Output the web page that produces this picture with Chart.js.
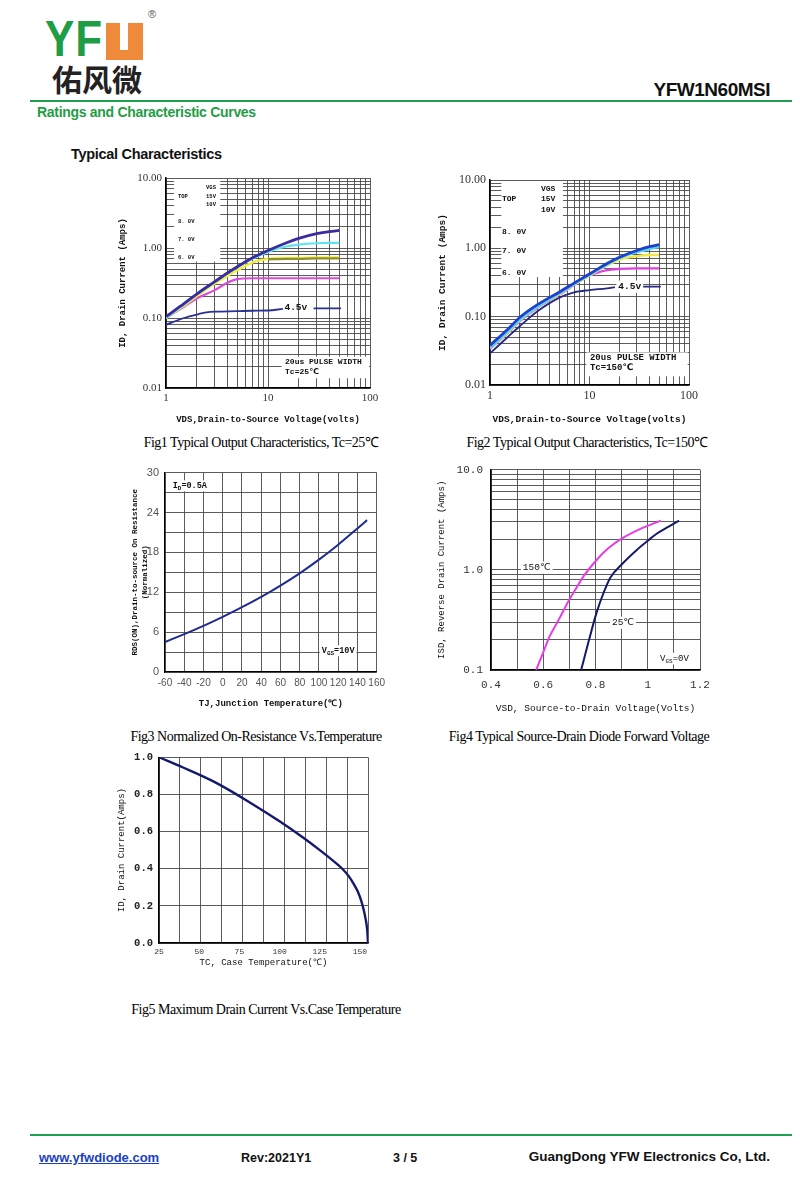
<!DOCTYPE html>
<html>
<head>
<meta charset="utf-8">
<script src="https://cdn.jsdelivr.net/npm/chart.js@4.4.0/dist/chart.umd.min.js"></script>
<style>
body{margin:0;background:#fff;width:800px;height:1200px;position:relative;overflow:hidden;font-family:"Liberation Sans",Arial,sans-serif}
.abs{position:absolute;white-space:nowrap}
canvas{position:absolute}
.cap{position:absolute;font-family:"Liberation Serif",serif;font-size:14px;letter-spacing:-0.5px;white-space:nowrap;transform:translate(-50%,-50%)}
</style>
</head>
<body>
<!-- header -->
<div class="abs" style="left:45px;top:14px;font-size:50px;font-weight:bold;color:#1f9d45;letter-spacing:1px;line-height:50px;transform:scaleX(0.88);transform-origin:left top">YF</div>
<div class="abs" style="left:106px;top:23px;width:37px;height:37px;background:#ee8a3a"></div>
<div class="abs" style="left:120px;top:23px;width:8px;height:27px;background:#fff"></div>
<div class="abs" style="left:148px;top:8px;font-size:11px;color:#555">®</div>
<div class="abs" style="left:52px;top:61px;font-family:'Noto Sans CJK SC';font-size:30px;font-weight:bold;color:#222;line-height:34px;letter-spacing:0px">佑风微</div>
<div class="abs" style="right:30px;top:79px;font-size:19px;font-weight:bold;color:#111;letter-spacing:-0.5px">YFW1N60MSI</div>
<div class="abs" style="left:30px;top:100px;width:762px;height:2px;background:#1fa050"></div>
<div class="abs" style="left:37px;top:104px;font-size:14px;font-weight:bold;color:#1f9d45;letter-spacing:-0.3px">Ratings and Characteristic Curves</div>
<div class="abs" style="left:71px;top:146px;font-size:14.5px;font-weight:bold;color:#111;letter-spacing:-0.3px">Typical Characteristics</div>

<canvas id="c1" width="280" height="265" style="left:105px;top:165px"></canvas>
<canvas id="c2" width="275" height="265" style="left:430px;top:165px"></canvas>
<canvas id="c3" width="270" height="260" style="left:120px;top:460px"></canvas>
<canvas id="c4" width="290" height="265" style="left:430px;top:455px"></canvas>
<canvas id="c5" width="280" height="230" style="left:105px;top:745px"></canvas>

<div class="cap" style="left:261px;top:441px">Fig1 Typical Output Characteristics, Tc=25℃</div>
<div class="cap" style="left:587px;top:441px">Fig2 Typical Output Characteristics, Tc=150℃</div>
<div class="cap" style="left:256px;top:737px">Fig3 Normalized On-Resistance Vs.Temperature</div>
<div class="cap" style="left:579px;top:737px">Fig4 Typical Source-Drain Diode Forward Voltage</div>
<div class="cap" style="left:266px;top:1010px">Fig5 Maximum Drain Current Vs.Case Temperature</div>

<!-- footer -->
<div class="abs" style="left:30px;top:1134px;width:762px;height:2px;background:#1fa050"></div>
<div class="abs" style="left:39px;top:1150px;font-size:13px;font-weight:bold;color:#1a3fc0;text-decoration:underline">www.yfwdiode.com</div>
<div class="abs" style="left:241px;top:1151px;font-size:12.5px;font-weight:bold;color:#111">Rev:2021Y1</div>
<div class="abs" style="left:393px;top:1151px;font-size:12.5px;font-weight:bold;color:#111">3 / 5</div>
<div class="abs" style="right:30px;top:1149px;font-size:13.5px;font-weight:bold;color:#111">GuangDong YFW Electronics Co, Ltd.</div>

<script>
// ---- Fig1 data (Tc=25C) ----
const fig1Vds = [1, 1.5, 2, 3, 4, 5, 7, 10, 15, 20, 30, 40, 50];
const fig1Vgs15 = [0.105, 0.16, 0.22, 0.33, 0.44, 0.54, 0.72, 0.92, 1.18, 1.37, 1.6, 1.72, 1.78];
const fig1Vgs10 = [0.1, 0.155, 0.215, 0.325, 0.43, 0.53, 0.7, 0.88, 1.05, 1.12, 1.17, 1.18, 1.18];
const fig1Vgs8 = [0.1, 0.15, 0.205, 0.31, 0.4, 0.48, 0.62, 0.7, 0.72, 0.72, 0.73, 0.73, 0.73];
const fig1Vgs7 = [null, null, null, null, null, null, null, 0.69, 0.7, 0.7, 0.71, 0.71, 0.71];
const fig1Vgs6 = [0.1, 0.145, 0.19, 0.25, 0.32, 0.36, 0.37, 0.37, 0.37, 0.37, 0.37, 0.37, 0.37];
const fig1Vds45 = [1, 1.5, 2, 2.5, 3, 5, 7, 10, 14, 20, 28, 52];
const fig1Vgs45 = [0.08, 0.1, 0.112, 0.12, 0.123, 0.125, 0.127, 0.128, 0.135, null, 0.137, 0.137];

// ---- Fig2 data (Tc=150C) ----
const fig2Vds = [1, 1.5, 2, 3, 5, 7, 10, 15, 20, 30, 40, 50];
const fig2Vgs15 = [0.038, 0.065, 0.098, 0.15, 0.23, 0.31, 0.42, 0.6, 0.74, 0.93, 1.06, 1.13];
const fig2Vgs10 = [0.035, 0.06, 0.09, 0.14, 0.22, 0.3, 0.41, 0.58, 0.72, 0.88, 0.98, 1.05];
const fig2Vgs8 = [0.035, 0.058, 0.088, 0.138, 0.215, 0.295, 0.4, 0.56, 0.68, 0.77, 0.8, 0.8];
const fig2Vgs6 = [0.034, 0.057, 0.086, 0.135, 0.21, 0.29, 0.4, 0.48, 0.5, 0.51, 0.51, 0.51];
const fig2Vds45 = [1, 1.5, 2, 3, 5, 7, 10, 15, 18, 25, 32, 52];
const fig2Vgs45 = [0.029, 0.05, 0.073, 0.12, 0.19, 0.227, 0.245, 0.26, 0.27, null, 0.275, 0.275];

const logXLabels = [1, 10, 100];
const logYLabels = [0.01, 0.1, 1, 10];

// ---- Fig3 data ----
const fig3Tj = [-60, -40, -20, 0, 20, 40, 60, 80, 100, 120, 140, 150];
const fig3Rds = [4.5, 5.7, 6.95, 8.3, 9.75, 11.3, 13.0, 14.85, 16.9, 19.15, 21.6, 22.85];
const fig3YLabels = [0, 6, 12, 18, 24, 30];

// ---- Fig4 data ----
const fig4Vsd150 = [0.573, 0.6, 0.624, 0.66, 0.699, 0.73, 0.754, 0.805, 0.85, 0.9, 0.97, 1.05];
const fig4Isd150 = [0.1, 0.15, 0.215, 0.32, 0.5, 0.68, 0.86, 1.26, 1.65, 2.05, 2.55, 3.1];
const fig4Vsd25 = [0.745, 0.773, 0.805, 0.83, 0.856, 0.9, 0.958, 1.0, 1.034, 1.08, 1.12];
const fig4Isd25 = [0.1, 0.19, 0.38, 0.58, 0.83, 1.13, 1.58, 1.95, 2.29, 2.7, 3.1];
const fig4XLabels = [0.4, 0.6, 0.8, 1, 1.2];
const fig4YLabels = [0.1, 1, 10];

// ---- Fig5 data ----
const fig5Tc = [25, 40, 60, 80, 100, 115, 125, 133, 139, 143, 146, 148.5, 150.5, 152, 153.5, 154.5, 155];
const fig5Id = [1.0, 0.945, 0.865, 0.765, 0.655, 0.565, 0.5, 0.445, 0.4, 0.36, 0.32, 0.28, 0.235, 0.19, 0.13, 0.07, 0];
const fig5XLabels = [25, 50, 75, 100, 125, 150];
const fig5XGrid = [25, 38, 51, 64, 77, 90, 103, 116, 129, 142, 155];

Chart.defaults.font.family = 'Liberation Serif';
const GRID = '#4a4a4a';
const MONO = 'Liberation Mono';

function logGrid(e0, e1) {
  const v = [];
  for (let e = e0; e < e1; e++) for (let m = 1; m < 10; m++) v.push(+(m * Math.pow(10, e)).toPrecision(3));
  v.push(Math.pow(10, e1));
  return v;
}
function stepGrid(a, b, s) {
  const v = [];
  for (let t = a; t <= b + 1e-9; t += s) v.push(+t.toFixed(4));
  return v;
}
const has = (arr, v) => arr.some(l => Math.abs(l - v) < 1e-6 * Math.max(1, Math.abs(l)));

function series(xs, ys, color, w) {
  return {
    data: xs.map((x, i) => ({x: x, y: ys[i]})),
    borderColor: color, borderWidth: w, pointRadius: 0,
    cubicInterpolationMode: 'monotone', spanGaps: false, fill: false
  };
}

// white boxes and text placed in data coordinates
const notesPlugin = {
  id: 'notes',
  beforeDatasetsDraw(chart, args, o) {
    const {ctx, chartArea: a} = chart;
    const x = chart.scales.x, y = chart.scales.y;
    (o.boxes || []).forEach(b => {
      const l = Math.max(x.getPixelForValue(b[0]), a.left + 1);
      const r = Math.min(x.getPixelForValue(b[1]), a.right - 1);
      const t = Math.max(y.getPixelForValue(b[3]), a.top + 1);
      const bt = Math.min(y.getPixelForValue(b[2]), a.bottom - 1);
      ctx.save(); ctx.fillStyle = '#fff'; ctx.fillRect(l, t, r - l, bt - t); ctx.restore();
    });
  },
  afterDatasetsDraw(chart, args, o) {
    const {ctx} = chart;
    const x = chart.scales.x, y = chart.scales.y;
    (o.texts || []).forEach(t => {
      const parts = Array.isArray(t.text) ? t.text : [[t.text, false]];
      const size = t.size || 9, weight = t.weight || 'bold';
      const fam = t.family || MONO;
      const fMain = weight + ' ' + size + 'px "' + fam + '", "DejaVu Sans"';
      const fSub = weight + ' ' + Math.round(size * 0.7) + 'px "' + fam + '", "DejaVu Sans"';
      ctx.save();
      let w = 0;
      parts.forEach(p => { ctx.font = p[1] ? fSub : fMain; w += ctx.measureText(p[0]).width; });
      let px = x.getPixelForValue(t.x);
      const py = y.getPixelForValue(t.y);
      if (t.bg) { ctx.fillStyle = '#fff'; ctx.fillRect(px - 2, py - size * 0.65, w + 4, size * 1.3); }
      ctx.fillStyle = t.color || '#111';
      ctx.textBaseline = 'middle';
      ctx.textAlign = 'left';
      parts.forEach(p => {
        ctx.font = p[1] ? fSub : fMain;
        ctx.fillText(p[0], px, p[1] ? py + size * 0.3 : py);
        px += ctx.measureText(p[0]).width;
      });
      ctx.restore();
    });
  }
};

function base(box, plot, scales, notes) {
  const yW = plot[0] - box[0], xH = box[1] + box[3] - plot[3];
  scales.x.afterFit = s => { s.height = xH; };
  scales.y.afterFit = s => { s.width = yW; };
  return {
    animation: false, responsive: false, events: [],
    layout: {padding: {left: 0, bottom: 0, top: plot[1] - box[1], right: box[0] + box[2] - plot[2]}},
    plugins: {legend: {display: false}, tooltip: {enabled: false}, notes: notes},
    scales: scales
  };
}

function logAxis(min, max, e0, e1, labels, fmt, font, title, titleFont, pad) {
  const grid = logGrid(e0, e1);
  return {
    type: 'logarithmic', min: min, max: max,
    afterBuildTicks: s => { s.ticks = grid.map(v => ({value: v})); },
    ticks: {autoSkip: false, maxRotation: 0, padding: 4, color: '#333', font: font,
      callback: v => has(labels, v) ? fmt(v) : ''},
    grid: {color: GRID, lineWidth: 0.9, drawTicks: false},
    border: {color: '#000', width: 1.5},
    title: {display: true, text: title, font: titleFont, color: '#111', padding: pad}
  };
}

// ---------- Fig1 ----------
new Chart(document.getElementById('c1'), {
  type: 'line',
  data: {datasets: [
    series(fig1Vds, fig1Vgs15, '#3a2ca0', 2.8),
    series(fig1Vds, fig1Vgs10, '#5fe3f2', 2.2),
    series(fig1Vds, fig1Vgs7, '#8f8f2c', 2.4),
    series(fig1Vds, fig1Vgs8, '#f3ee3a', 2.4),
    series(fig1Vds, fig1Vgs6, '#e04ad8', 2.2),
    series(fig1Vds45, fig1Vgs45, '#2a3192', 1.8)
  ]},
  options: base([105, 165, 280, 265], [166, 178, 370, 388], {
    x: logAxis(1, 100, 0, 2, logXLabels, v => String(v), {size: 11},
      'VDS,Drain-to-Source Voltage(volts)', {family: MONO, size: 9, weight: 'bold'}, {top: 2, bottom: 5}),
    y: logAxis(0.01, 10, -2, 1, logYLabels, v => v.toFixed(2), {size: 11},
      'ID, Drain Current (Amps)', {family: MONO, size: 9, weight: 'bold'}, {top: 12, bottom: 2})
  }, {
    boxes: [[1.2, 3.4, 0.64, 10], [13.6, 98, 0.0138, 0.028]],
    texts: [
      {x: 2.47, y: 7.2, text: 'VGS', size: 5.5},
      {x: 1.31, y: 5.4, text: 'TOP', size: 5.5},
      {x: 2.47, y: 5.4, text: '15V', size: 5.5},
      {x: 2.47, y: 4.1, text: '10V', size: 5.5},
      {x: 1.31, y: 2.35, text: '8. 0V', size: 5.5},
      {x: 1.31, y: 1.3, text: '7. 0V', size: 5.5},
      {x: 1.31, y: 0.74, text: '6. 0V', size: 5.5},
      {x: 14.5, y: 0.139, text: '4.5v', size: 9.5},
      {x: 14.7, y: 0.0235, text: '20us PULSE WIDTH', size: 8},
      {x: 14.7, y: 0.0168, text: 'Tc=25℃', size: 8}
    ]
  }),
  plugins: [notesPlugin]
});

// ---------- Fig2 ----------
new Chart(document.getElementById('c2'), {
  type: 'line',
  data: {datasets: [
    series(fig2Vds, fig2Vgs15, '#1e3fd0', 2.8),
    series(fig2Vds, fig2Vgs10, '#52d6ef', 2.6),
    series(fig2Vds, fig2Vgs8, '#f0e840', 2.4),
    series(fig2Vds, fig2Vgs6, '#e040e0', 2.2),
    series(fig2Vds45, fig2Vgs45, '#232a80', 1.8)
  ]},
  options: base([430, 165, 275, 265], [490, 180, 689, 385], {
    x: logAxis(1, 100, 0, 2, logXLabels, v => String(v), {size: 12},
      'VDS,Drain-to-Source Voltage(volts)', {family: MONO, size: 9.5, weight: 'bold'}, {top: 2, bottom: 5}),
    y: logAxis(0.01, 10, -2, 1, logYLabels, v => v.toFixed(2), {size: 12},
      'ID, Drain Current (Amps)', {family: MONO, size: 9.5, weight: 'bold'}, {top: 7, bottom: 2})
  }, {
    boxes: [[1.3, 5.4, 0.38, 10], [9.3, 97, 0.0134, 0.03]],
    texts: [
      {x: 3.25, y: 7.5, text: 'VGS', size: 8},
      {x: 1.32, y: 5.3, text: 'TOP', size: 8},
      {x: 3.25, y: 5.3, text: '15V', size: 8},
      {x: 3.25, y: 3.7, text: '10V', size: 8},
      {x: 1.32, y: 1.76, text: '8. 0V', size: 8},
      {x: 1.32, y: 0.9, text: '7. 0V', size: 8},
      {x: 1.32, y: 0.44, text: '6. 0V', size: 8},
      {x: 19.5, y: 0.275, text: '4.5v', size: 9.5, bg: true},
      {x: 10.1, y: 0.0248, text: '20us PULSE WIDTH', size: 9},
      {x: 10.1, y: 0.0178, text: 'Tc=150℃', size: 9}
    ]
  }),
  plugins: [notesPlugin]
});

// ---------- Fig3 ----------
const fig3XGrid = stepGrid(-60, 160, 20);
const fig3YGrid = stepGrid(0, 30, 3);
new Chart(document.getElementById('c3'), {
  type: 'line',
  data: {datasets: [series(fig3Tj, fig3Rds, '#1d2c8e', 2)]},
  options: base([120, 460, 270, 260], [165, 471, 377, 672], {
    x: {type: 'linear', min: -60, max: 160,
      afterBuildTicks: s => { s.ticks = fig3XGrid.map(v => ({value: v})); },
      ticks: {autoSkip: false, maxRotation: 0, padding: 5, color: '#555', font: {family: 'Liberation Sans', size: 10}},
      grid: {color: GRID, lineWidth: 0.9, drawTicks: false},
      border: {color: '#000', width: 1.2},
      title: {display: true, text: 'TJ,Junction Temperature(℃)', font: {family: MONO, size: 9, weight: 'bold'}, color: '#111', padding: {top: 2, bottom: 11}}},
    y: {type: 'linear', min: 0, max: 30,
      afterBuildTicks: s => { s.ticks = fig3YGrid.map(v => ({value: v})); },
      ticks: {autoSkip: false, padding: 6, color: '#555', font: {family: 'Liberation Sans', size: 11},
        callback: v => has(fig3YLabels, v) ? String(v) : ''},
      grid: {color: GRID, lineWidth: 0.9, drawTicks: false},
      border: {color: '#000', width: 1.2},
      title: {display: true, text: ['RDS(ON),Drain-to-source On Resistance', '(Normalized)'],
        font: {family: MONO, size: 7.5, weight: 'bold', lineHeight: 1.35}, color: '#111', padding: {top: 10, bottom: 0}}}
  }, {
    boxes: [],
    texts: [
      {x: -52, y: 28, text: [['I', false], ['D', true], ['=0.5A', false]], size: 8.5, bg: true},
      {x: 103, y: 3.2, text: [['V', false], ['GS', true], ['=10V', false]], size: 8.5, bg: true}
    ]
  }),
  plugins: [notesPlugin]
});

// ---------- Fig4 ----------
const fig4XGrid = stepGrid(0.4, 1.2, 0.1);
const fig4YGrid = logGrid(-1, 1);
new Chart(document.getElementById('c4'), {
  type: 'line',
  data: {datasets: [
    series(fig4Vsd150, fig4Isd150, '#e83ce8', 2),
    series(fig4Vsd25, fig4Isd25, '#15196e', 2)
  ]},
  options: base([430, 455, 290, 265], [491, 468, 700, 670], {
    x: {type: 'linear', min: 0.4, max: 1.2,
      afterBuildTicks: s => { s.ticks = fig4XGrid.map(v => ({value: v})); },
      ticks: {autoSkip: false, maxRotation: 0, padding: 8, color: '#333', font: {family: MONO, size: 11},
        callback: v => has(fig4XLabels, v) ? String(+v.toFixed(1)) : ''},
      grid: {color: GRID, lineWidth: 0.9, drawTicks: false},
      border: {color: '#000', width: 1.5},
      title: {display: true, text: 'VSD, Source-to-Drain Voltage(Volts)', font: {family: MONO, size: 9.5}, color: '#111', padding: {top: 2, bottom: 6}}},
    y: {type: 'logarithmic', min: 0.1, max: 10,
      afterBuildTicks: s => { s.ticks = fig4YGrid.map(v => ({value: v})); },
      ticks: {autoSkip: false, padding: 8, color: '#333', font: {family: MONO, size: 11},
        callback: v => has(fig4YLabels, v) ? v.toFixed(1) : ''},
      grid: {color: GRID, lineWidth: 0.9, drawTicks: false},
      border: {color: '#000', width: 1.5},
      title: {display: true, text: 'ISD, Reverse Drain Current (Amps)', font: {family: MONO, size: 9}, color: '#111', padding: {top: 6, bottom: 0}}}
  }, {
    boxes: [],
    texts: [
      {x: 0.522, y: 1.05, text: '150℃', size: 9.5, weight: 'normal', bg: true},
      {x: 0.863, y: 0.295, text: '25℃', size: 9.5, weight: 'normal', bg: true},
      {x: 1.047, y: 0.13, text: [['V', false], ['GS', true], ['=0V', false]], size: 9, weight: 'normal', bg: true}
    ]
  }),
  plugins: [notesPlugin]
});

// ---------- Fig5 ----------
const fig5XTicks = [...new Set(fig5XGrid.concat(fig5XLabels))].sort((a, b) => a - b);
const fig5YGrid = stepGrid(0, 1, 0.2);
new Chart(document.getElementById('c5'), {
  type: 'line',
  data: {datasets: [series(fig5Tc, fig5Id, '#15196e', 2.4)]},
  options: base([105, 745, 280, 230], [159, 754, 368, 943], {
    x: {type: 'linear', min: 25, max: 155,
      afterBuildTicks: s => { s.ticks = fig5XTicks.map(v => ({value: v})); },
      ticks: {autoSkip: false, maxRotation: 0, padding: 4, color: '#333', font: {family: MONO, size: 8},
        callback: v => has(fig5XLabels, v) ? String(v) : ''},
      grid: {color: c => has(fig5XGrid, c.tick.value) ? GRID : 'rgba(0,0,0,0)', lineWidth: 0.9, drawTicks: false},
      border: {color: '#000', width: 1.5},
      title: {display: true, text: 'TC, Case Temperature(℃)', font: {family: MONO, size: 9}, color: '#111', padding: {top: 0, bottom: 7}}},
    y: {type: 'linear', min: 0, max: 1,
      afterBuildTicks: s => { s.ticks = fig5YGrid.map(v => ({value: v})); },
      ticks: {autoSkip: false, padding: 6, color: '#222', font: {family: MONO, size: 10.5, weight: 'bold'},
        callback: v => v.toFixed(1)},
      grid: {color: GRID, lineWidth: 0.9, drawTicks: false},
      border: {color: '#000', width: 1.5},
      title: {display: true, text: 'ID, Drain Current(Amps)', font: {family: MONO, size: 9}, color: '#111', padding: {top: 11, bottom: 0}}}
  }, {boxes: [], texts: []}),
  plugins: [notesPlugin]
});
</script>
</body>
</html>
